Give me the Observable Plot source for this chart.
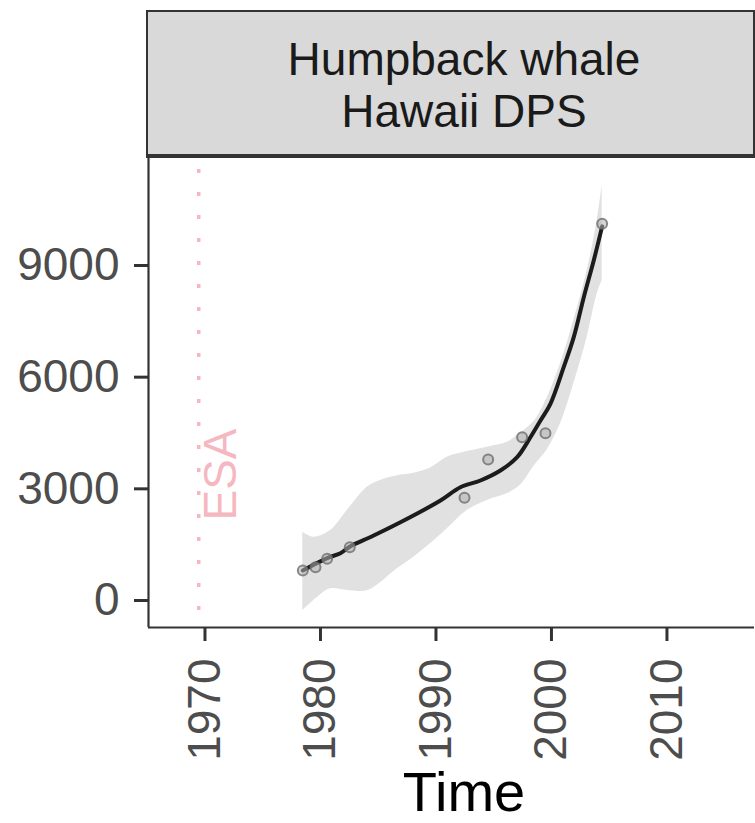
<!DOCTYPE html>
<html>
<head>
<meta charset="utf-8">
<script src="https://cdn.jsdelivr.net/npm/d3@7"></script>
<script src="https://cdn.jsdelivr.net/npm/@observablehq/plot@0.6"></script>
<style>
  html, body { margin: 0; padding: 0; overflow: hidden; background: #fff; }
  #wrap { position: relative; width: 755px; height: 823px; }
  #strip { position: absolute; left: 146px; top: 10px; width: 609px; height: 148px; box-sizing: border-box;
           background: #d9d9d9; border: 2.5px solid #333; border-bottom-width: 4px; z-index: 2; }
  #stripText { position: absolute; left: 0; top: 33px; width: 928px; text-align: center; z-index: 3;
               font-family: "Liberation Sans", Arial, sans-serif; font-size: 46px; line-height: 52px; color: #1a1a1a; }
  #chart svg { display: block; }
  #chart g[aria-label="y-axis tick label"] text, #chart g[aria-label="x-axis tick label"] text { fill: #4d4d4d; }
</style>
</head>
<body>
<div id="wrap">
  <div id="chart"></div>
  <div id="strip"></div>
  <div id="stripText">Humpback whale<br>Hawaii DPS</div>
</div>
<script>
// Observed counts
const pointYears  = [1978.47, 1979.57, 1980.58, 1982.54, 1992.47, 1994.52, 1997.46, 1999.48, 2004.39];
const pointCounts = [806, 895, 1120, 1432, 2759, 3788, 4387, 4495, 10120];

// Smoothed fit
const fitYears  = [1978.47, 1980.58, 1981.73, 1982.6, 1984.61, 1987.51, 1990.39, 1992.12, 1993.85, 1995.58, 1997.03, 1998.18, 1999.05, 1999.91, 2001.06, 2001.93, 2002.8, 2003.66, 2004.39];
const fitCounts = [806, 1140, 1270, 1459, 1746, 2195, 2687, 3044, 3224, 3492, 3850, 4387, 4836, 5284, 6268, 7074, 8148, 9134, 10050];

// Confidence band
const bandYears = [1978.47, 1979.42, 1980.87, 1982.31, 1984.04, 1985.19, 1986.64, 1988.08, 1989.52, 1990.97, 1992.7, 1994.43, 1996.16, 1997.32, 1998.47, 1999.63, 2000.78, 2001.93, 2003.09, 2003.96, 2004.39];
const bandLower = [-269, 0, 313, 269, 260, 480, 851, 1164, 1522, 1925, 2418, 2687, 2866, 3100, 3600, 4050, 4747, 5822, 7074, 8239, 8600];
const bandUpper = [1835, 1701, 1880, 2418, 3044, 3224, 3350, 3420, 3560, 3850, 4000, 4120, 4250, 4500, 4800, 5450, 6359, 7522, 8866, 10209, 11150];

// Annotation and ticks
const esaYear = 1969.46;
const esaLabel = "ESA";
const xTicks = [1970, 1980, 1990, 2000, 2010];
const yTicks = [0, 3000, 6000, 9000];
const xDomain = [1965.11, 2017.58];
const yDomain = [-725, 11901];
const xTitle = "Time";

const points = pointYears.map((x, i) => ({x, y: pointCounts[i]}));
const fit = fitYears.map((x, i) => ({x, y: fitCounts[i]}));
const band = bandYears.map((x, i) => ({x, lo: bandLower[i], hi: bandUpper[i]}));

const pink = "#f5b8c1";

const chart = Plot.plot({
  width: 755,
  height: 823,
  marginLeft: 148,
  marginRight: 1,
  marginTop: 157,
  marginBottom: 196,
  style: {fontFamily: "'Liberation Sans', Arial, sans-serif", background: "white"},
  x: {domain: xDomain},
  y: {domain: yDomain},
  marks: [
    Plot.areaY(band, {x: "x", y1: "lo", y2: "hi", fill: "#e1e1e1", curve: "catmull-rom"}),
    Plot.ruleX([esaYear], {stroke: pink, strokeWidth: 3.5, strokeDasharray: "4 19", strokeDashoffset: -12}),
    Plot.line(fit, {x: "x", y: "y", stroke: "#1c1c1c", strokeWidth: 4, curve: "catmull-rom"}),
    Plot.dot(points, {x: "x", y: "y", r: 5, fill: "#b0b0b0", fillOpacity: 0.55, stroke: "#6e6e6e", strokeOpacity: 0.8, strokeWidth: 2}),
    Plot.ruleX([xDomain[0]], {stroke: "#333", strokeWidth: 2.2}),
    Plot.ruleY([yDomain[0]], {stroke: "#333", strokeWidth: 2.2}),
    Plot.text([esaLabel], {x: 1971.39, y: 2149, text: d => d, rotate: -90, textAnchor: "start", lineAnchor: "middle", fill: pink, fontSize: 46}),
    Plot.axisY({ticks: yTicks, tickSize: 14, tickPadding: 15, fontSize: 46, stroke: "#333", strokeWidth: 3, label: null, tickFormat: d => String(d)}),
    Plot.axisX({ticks: xTicks, tickSize: 14, tickPadding: 17, tickRotate: -90, fontSize: 46, stroke: "#333", strokeWidth: 3, label: null, tickFormat: d => String(d)}),
    Plot.text([xTitle], {frameAnchor: "bottom", lineAnchor: "middle", text: d => d, dy: 166, dx: 12.5, fontSize: 56, fill: "#000"})
  ]
});
document.getElementById("chart").appendChild(chart);
</script>
</body>
</html>
